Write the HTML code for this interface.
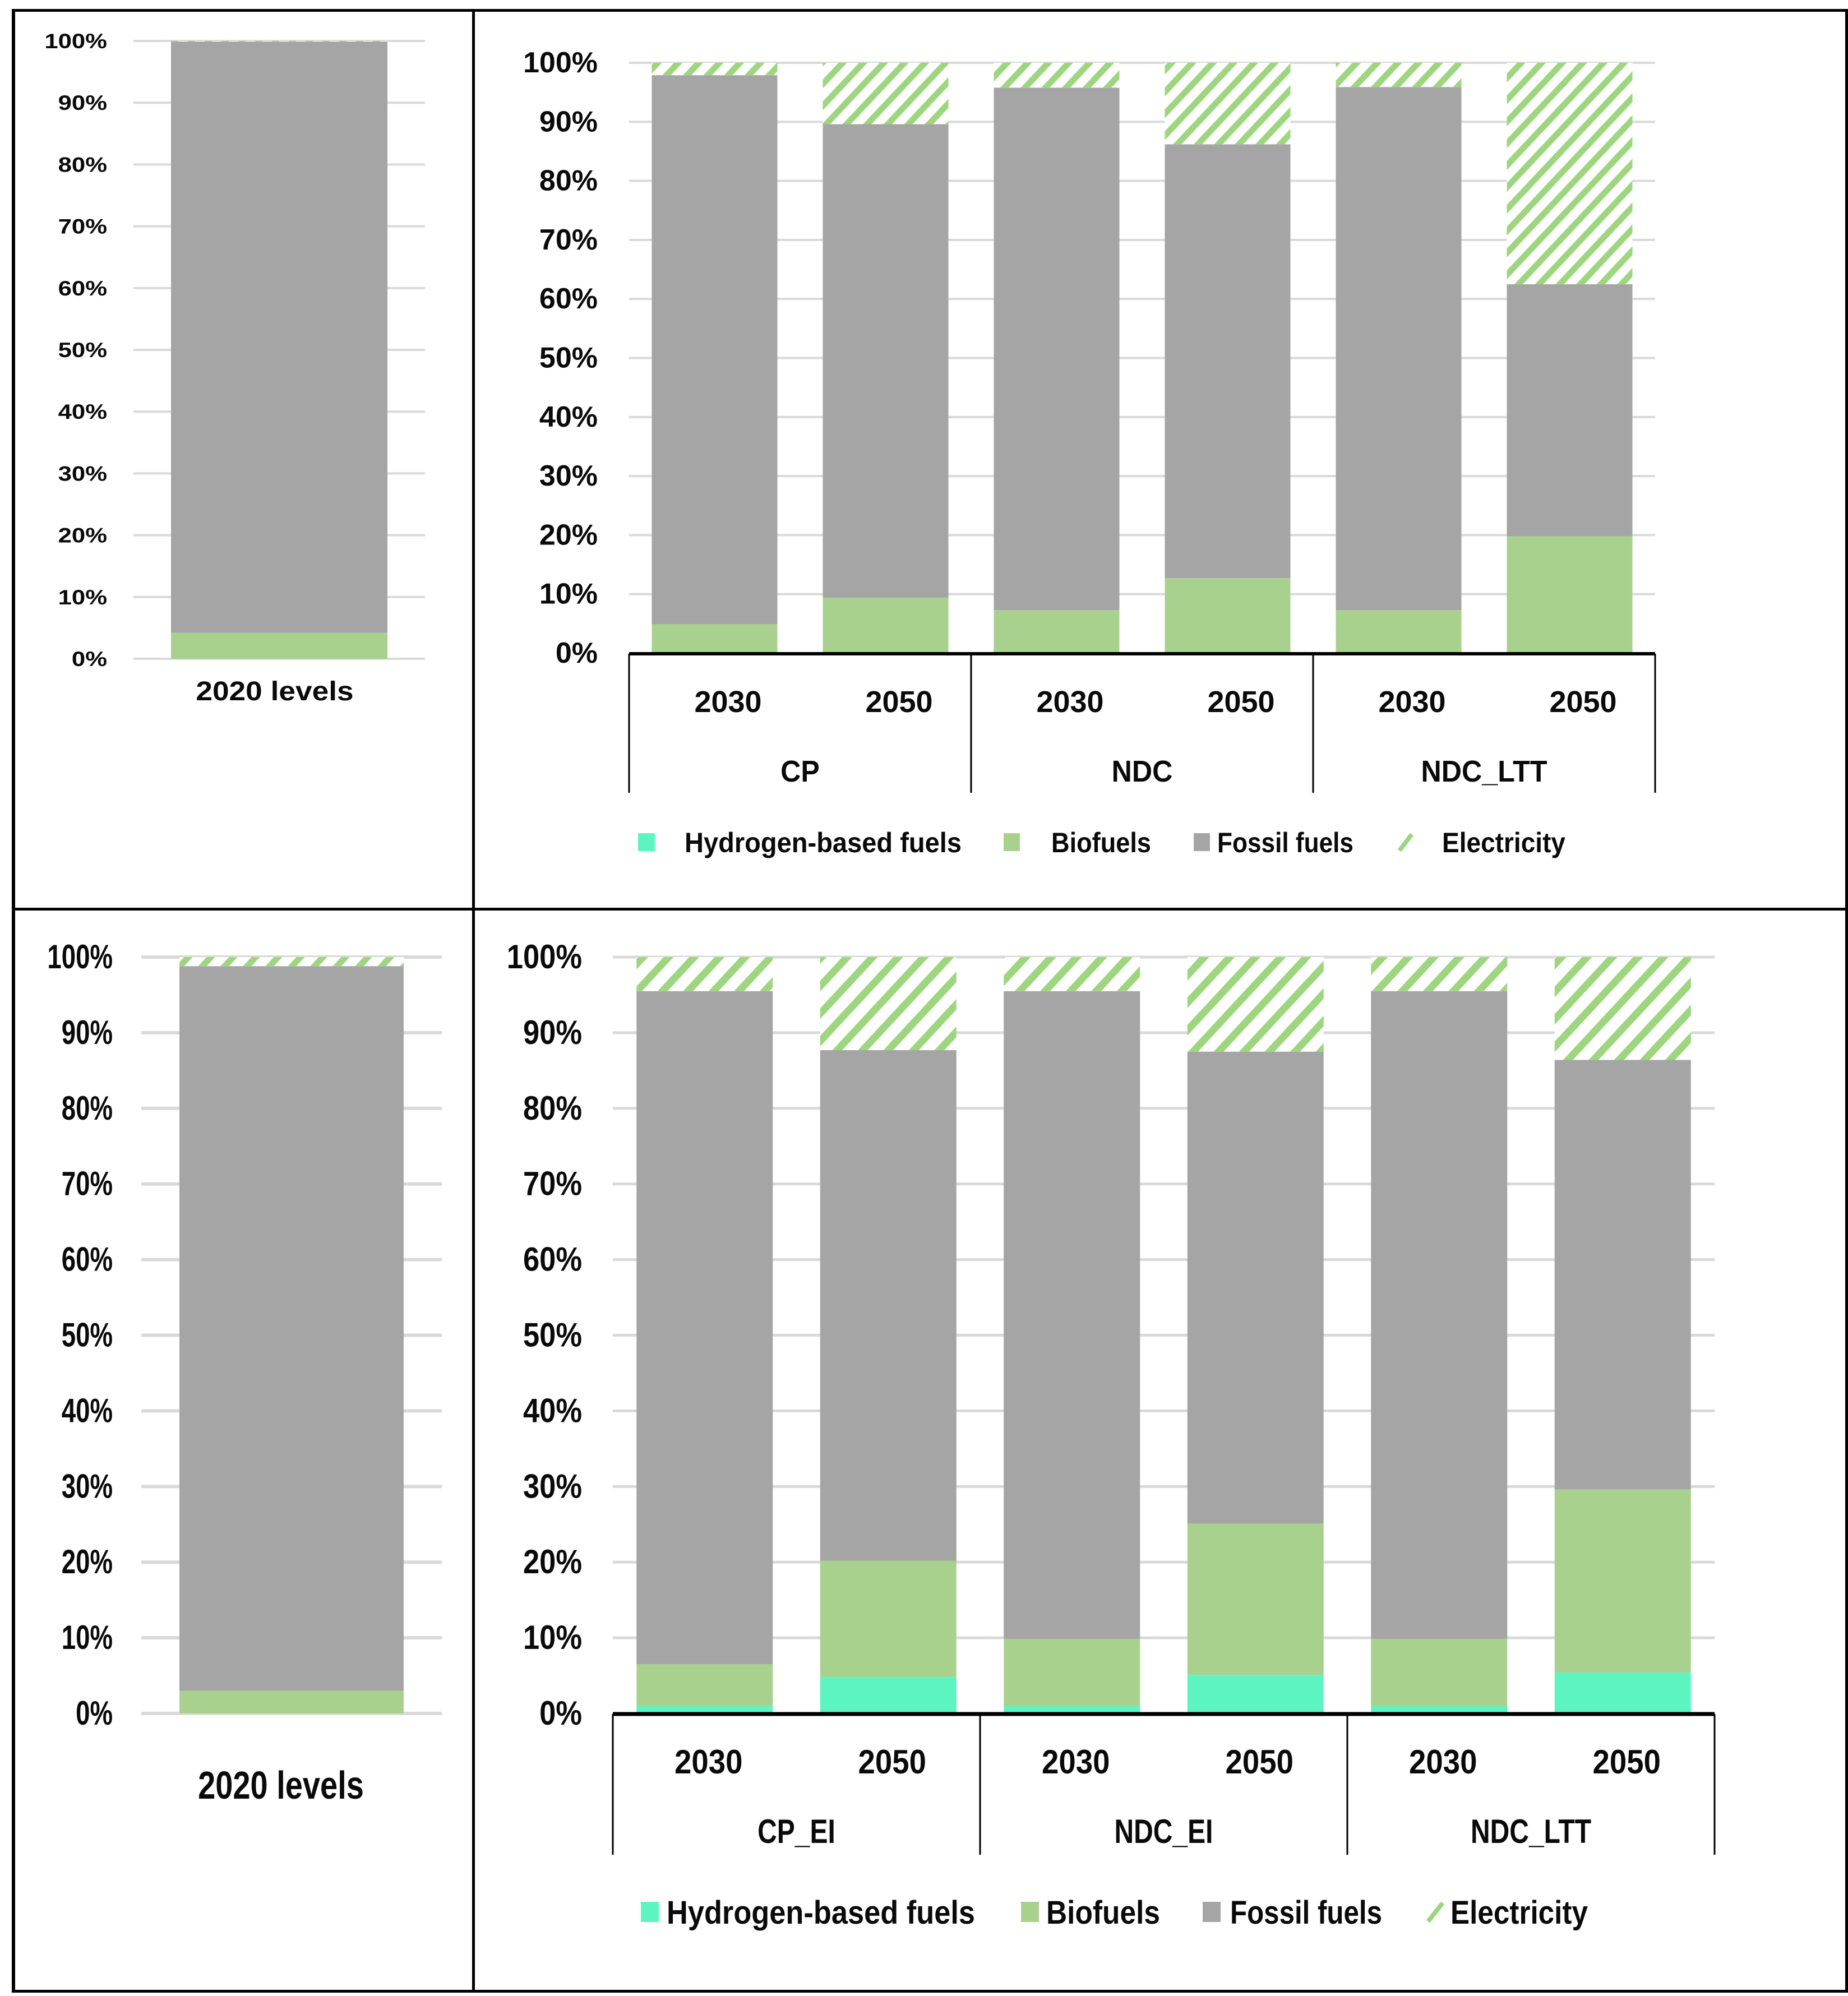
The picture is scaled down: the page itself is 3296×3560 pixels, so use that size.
<!DOCTYPE html>
<html lang="en">
<head>
<meta charset="utf-8">
<title>Transport energy mix by scenario</title>
<style>
  html, body { margin: 0; padding: 0; background: #ffffff; }
  svg { display: block; }
  text { font-family: "Liberation Sans", "DejaVu Sans", sans-serif; font-weight: bold; fill: #0a0a0a; }
</style>
</head>
<body>
<svg id="figure" xmlns="http://www.w3.org/2000/svg" width="3296" height="3560" viewBox="0 0 3296 3560">
  <defs>
    <pattern id="hatch-a" patternUnits="userSpaceOnUse" width="30" height="30" patternTransform="translate(312,73)">
      <path d="M-7.5,7.5 L7.5,-7.5 M0,30 L30,0 M22.5,37.5 L37.5,22.5" stroke="#9dd67e" stroke-width="9"></path>
    </pattern>
    <pattern id="hatch-b" patternUnits="userSpaceOnUse" width="36.67" height="39" patternTransform="translate(1173,112)">
      <path d="M-9.17,9.75 L9.17,-9.75 M0,39 L36.67,0 M27.5,48.75 L45.84,29.25" stroke="#9dd67e" stroke-width="11"></path>
    </pattern>
    <pattern id="hatch-c" patternUnits="userSpaceOnUse" width="40" height="43" patternTransform="translate(336,1707)">
      <path d="M-10,10.75 L10,-10.75 M0,43 L40,0 M30,53.75 L50,32.25" stroke="#9dd67e" stroke-width="11"></path>
    </pattern>
    <pattern id="hatch-d" patternUnits="userSpaceOnUse" width="45.5" height="49" patternTransform="translate(2785,1707)">
      <path d="M-11.38,12.25 L11.38,-12.25 M0,49 L45.5,0 M34.13,61.25 L56.88,36.75" stroke="#9dd67e" stroke-width="13"></path>
    </pattern>
  </defs>

  <rect x="0" y="0" width="3296" height="3560" fill="#ffffff"></rect>

  <g id="plots"></g>

  <g>
    <g>
      <rect x="1138" y="1486" width="30" height="32" fill="#5cf5c2"></rect>
      <text x="1221" y="1520" font-size="50" textLength="494" lengthAdjust="spacingAndGlyphs">Hydrogen-based fuels</text>
    </g>
    <g>
      <rect x="1790" y="1486" width="29" height="32" fill="#a9d18e"></rect>
      <text x="1875" y="1520" font-size="50" textLength="178" lengthAdjust="spacingAndGlyphs">Biofuels</text>
    </g>
    <g>
      <rect x="2129" y="1486" width="29" height="32" fill="#a5a5a5"></rect>
      <text x="2171" y="1520" font-size="50" textLength="243" lengthAdjust="spacingAndGlyphs">Fossil fuels</text>
    </g>
    <g>
      <line x1="2496" y1="1517" x2="2518" y2="1488" stroke="#9dd67e" stroke-width="8"></line>
      <text x="2572" y="1520" font-size="50" textLength="220" lengthAdjust="spacingAndGlyphs">Electricity</text>
    </g>
  </g>

  <g>
    <g>
      <rect x="1143" y="3392" width="32" height="36" fill="#5cf5c2"></rect>
      <text x="1189" y="3431" font-size="58" textLength="550" lengthAdjust="spacingAndGlyphs">Hydrogen-based fuels</text>
    </g>
    <g>
      <rect x="1821" y="3392" width="32" height="36" fill="#a9d18e"></rect>
      <text x="1866" y="3431" font-size="58" textLength="203" lengthAdjust="spacingAndGlyphs">Biofuels</text>
    </g>
    <g>
      <rect x="2145" y="3392" width="32" height="36" fill="#a5a5a5"></rect>
      <text x="2194" y="3431" font-size="58" textLength="271" lengthAdjust="spacingAndGlyphs">Fossil fuels</text>
    </g>
    <g>
      <line x1="2547" y1="3427" x2="2573" y2="3394" stroke="#9dd67e" stroke-width="8"></line>
      <text x="2587" y="3431" font-size="58" textLength="245" lengthAdjust="spacingAndGlyphs">Electricity</text>
    </g>
  </g>

  <g fill="#000000">
    <rect x="21" y="16" width="3275" height="5"></rect>
    <rect x="21" y="3549" width="3275" height="5"></rect>
    <rect x="21" y="16" width="6" height="3538"></rect>
    <rect x="3291" y="16" width="5" height="3538"></rect>
    <rect x="842" y="16" width="5" height="3538"></rect>
    <rect x="21" y="1619" width="3275" height="5"></rect>
  </g>
</svg>

<script>
// Shared axis data
var tickValues = [0, 10, 20, 30, 40, 50, 60, 70, 80, 90, 100];
var tickLabels = ["0%", "10%", "20%", "30%", "40%", "50%", "60%", "70%", "80%", "90%", "100%"];
var yearLabels = ["2030", "2050"];

// Top-left panel: 2020 levels
var topLeftCategories = ["2020 levels"];
var topLeftHydrogen = [0];
var topLeftBiofuels = [4.2];
var topLeftFossil = [95.7];
var topLeftElectricity = [0.1];

// Top-right panel: scenarios
var topRightGroups = ["CP", "NDC", "NDC_LTT"];
var topRightHydrogen = [0, 0, 0, 0, 0, 0];
var topRightBiofuels = [4.9, 9.4, 7.3, 12.7, 7.3, 19.8];
var topRightFossil = [93.0, 80.2, 88.5, 73.5, 88.6, 42.7];
var topRightElectricity = [2.1, 10.4, 4.2, 13.8, 4.1, 37.5];

// Bottom-left panel: 2020 levels
var bottomLeftCategories = ["2020 levels"];
var bottomLeftHydrogen = [0];
var bottomLeftBiofuels = [3.0];
var bottomLeftFossil = [95.8];
var bottomLeftElectricity = [1.2];

// Bottom-right panel: scenarios with energy-intensity measures
var bottomRightGroups = ["CP_EI", "NDC_EI", "NDC_LTT"];
var bottomRightHydrogen = [1.0, 4.8, 1.0, 5.1, 1.0, 5.4];
var bottomRightBiofuels = [5.5, 15.4, 8.85, 20.0, 8.85, 24.2];
var bottomRightFossil = [89.0, 67.5, 85.65, 62.4, 85.65, 56.8];
var bottomRightElectricity = [4.5, 12.3, 4.5, 12.5, 4.5, 13.6];

var SVG_NS = "http://www.w3.org/2000/svg";
var plots = document.getElementById("plots");

function makeRect(parent, x, y, w, h, fill) {
  var r = document.createElementNS(SVG_NS, "rect");
  r.setAttribute("x", x);
  r.setAttribute("y", y);
  r.setAttribute("width", w);
  r.setAttribute("height", h);
  r.setAttribute("fill", fill);
  parent.appendChild(r);
  return r;
}

function makeText(parent, str, x, y, size, scaleX, anchor) {
  var t = document.createElementNS(SVG_NS, "text");
  t.setAttribute("transform", "translate(" + x + "," + y + ") scale(" + scaleX + ",1)");
  t.setAttribute("font-size", size);
  t.setAttribute("text-anchor", anchor);
  t.textContent = str;
  parent.appendChild(t);
  return t;
}

function drawPanel(cfg) {
  var panel = document.createElementNS(SVG_NS, "g");
  
  
  plots.appendChild(panel);

  function yScale(v) {
    return cfg.y0 - (v / 100) * (cfg.y0 - cfg.y100);
  }

  var count = cfg.hydrogen.length;
  var step = (cfg.xEnd - cfg.xStart) / count;
  function xCenter(i) {
    return cfg.xStart + step * (i + 0.5);
  }

  // gridlines and tick labels
  tickValues.forEach(function (v, i) {
    var g = makeRect(panel, cfg.gridStart, yScale(v) - cfg.gridWidth / 2, cfg.gridEnd - cfg.gridStart, cfg.gridWidth, "#d9d9d9");
    
    
    var t = makeText(panel, tickLabels[i], cfg.tickRight, yScale(v) + cfg.tickDrop, cfg.tickSize, cfg.tickScale, "end");
    
    
  });

  // stacked bars
  for (var i = 0; i < count; i++) {
    var left = xCenter(i) - cfg.barWidth / 2;
    var base = 0;

    var hydrogenTop = base + cfg.hydrogen[i];
    var hydrogenRect = makeRect(panel, left, yScale(hydrogenTop), cfg.barWidth, yScale(base) - yScale(hydrogenTop), "#5cf5c2");
    
    
    base = hydrogenTop;

    var biofuelTop = base + cfg.biofuels[i];
    var biofuelRect = makeRect(panel, left, yScale(biofuelTop), cfg.barWidth, yScale(base) - yScale(biofuelTop), "#a9d18e");
    
    
    base = biofuelTop;

    var fossilTop = base + cfg.fossil[i];
    var fossilRect = makeRect(panel, left, yScale(fossilTop), cfg.barWidth, yScale(base) - yScale(fossilTop), "#a5a5a5");
    
    
    base = fossilTop;

    var electricTop = base + cfg.electricity[i];
    var electricBack = makeRect(panel, left, yScale(electricTop), cfg.barWidth, yScale(base) - yScale(electricTop), "#ffffff");
    
    
    var electricRect = makeRect(panel, left, yScale(electricTop), cfg.barWidth, yScale(base) - yScale(electricTop), "url(#" + cfg.hatch + ")");
    
    
  }

  // single-category panels: one label under the bar
  if (cfg.categories) {
    var cat = makeText(panel, cfg.categories[0], xCenter(0) + cfg.catOffset, cfg.catBaseline, cfg.catSize, cfg.catScale, "middle");
    
    
    return;
  }

  // scenario panels: thick axis, group separators, years, group names
  var axis = makeRect(panel, cfg.xStart, cfg.axisY - cfg.axisWidth / 2, cfg.xEnd - cfg.xStart, cfg.axisWidth, "#000000");
  
  

  var groupCount = cfg.groups.length;
  var perGroup = count / groupCount;
  for (var s = 0; s <= groupCount; s++) {
    var sepX = cfg.xStart + s * perGroup * step;
    var sep = makeRect(panel, sepX - 1.5, cfg.axisY, 3, cfg.sepBottom - cfg.axisY, "#000000");
    
    
  }

  for (var c = 0; c < count; c++) {
    var yearText = makeText(panel, yearLabels[c % yearLabels.length], xCenter(c) + cfg.yearOffset, cfg.yearBaseline, cfg.yearSize, cfg.yearScale, "middle");
    
    
  }

  cfg.groups.forEach(function (label, g) {
    var gx = cfg.xStart + (g + 0.5) * perGroup * step;
    var groupText = makeText(panel, label, gx, cfg.groupBaseline, cfg.groupSize, cfg.groupScale, "middle");
    
    
  });
}

drawPanel({
  name: "chart-2020-levels-top",
  hydrogen: topLeftHydrogen, biofuels: topLeftBiofuels, fossil: topLeftFossil, electricity: topLeftElectricity,
  categories: topLeftCategories,
  y0: 1175, y100: 73,
  xStart: 305, xEnd: 691, barWidth: 386,
  gridStart: 238, gridEnd: 758, gridWidth: 4,
  tickRight: 191, tickDrop: 13, tickSize: 37, tickScale: 1.18,
  hatch: "hatch-a",
  catOffset: -8, catBaseline: 1249, catSize: 48, catScale: 1.11
});

drawPanel({
  name: "chart-scenarios-top",
  hydrogen: topRightHydrogen, biofuels: topRightBiofuels, fossil: topRightFossil, electricity: topRightElectricity,
  groups: topRightGroups,
  y0: 1165, y100: 112,
  xStart: 1122, xEnd: 2952, barWidth: 224,
  gridStart: 1122, gridEnd: 2952, gridWidth: 4,
  tickRight: 1066, tickDrop: 17, tickSize: 52, tickScale: 1,
  hatch: "hatch-b",
  axisY: 1166, axisWidth: 6, sepBottom: 1414,
  yearOffset: 24, yearBaseline: 1270, yearSize: 54, yearScale: 1,
  groupBaseline: 1394, groupSize: 54, groupScale: 0.93
});

drawPanel({
  name: "chart-2020-levels-bottom",
  hydrogen: bottomLeftHydrogen, biofuels: bottomLeftBiofuels, fossil: bottomLeftFossil, electricity: bottomLeftElectricity,
  categories: bottomLeftCategories,
  y0: 3056, y100: 1707,
  xStart: 320, xEnd: 720, barWidth: 400,
  gridStart: 252, gridEnd: 788, gridWidth: 6,
  tickRight: 201, tickDrop: 20, tickSize: 60, tickScale: 0.76,
  hatch: "hatch-c",
  catOffset: -19, catBaseline: 3208, catSize: 70, catScale: 0.8
});

drawPanel({
  name: "chart-scenarios-bottom",
  hydrogen: bottomRightHydrogen, biofuels: bottomRightBiofuels, fossil: bottomRightFossil, electricity: bottomRightElectricity,
  groups: bottomRightGroups,
  y0: 3056, y100: 1707,
  xStart: 1093, xEnd: 3058, barWidth: 243,
  gridStart: 1093, gridEnd: 3058, gridWidth: 5,
  tickRight: 1038, tickDrop: 20, tickSize: 60, tickScale: 0.875,
  hatch: "hatch-d",
  axisY: 3057, axisWidth: 7, sepBottom: 3308,
  yearOffset: 7, yearBaseline: 3163, yearSize: 60, yearScale: 0.91,
  groupBaseline: 3287, groupSize: 60, groupScale: 0.8
});
</script>
</body>
</html>
